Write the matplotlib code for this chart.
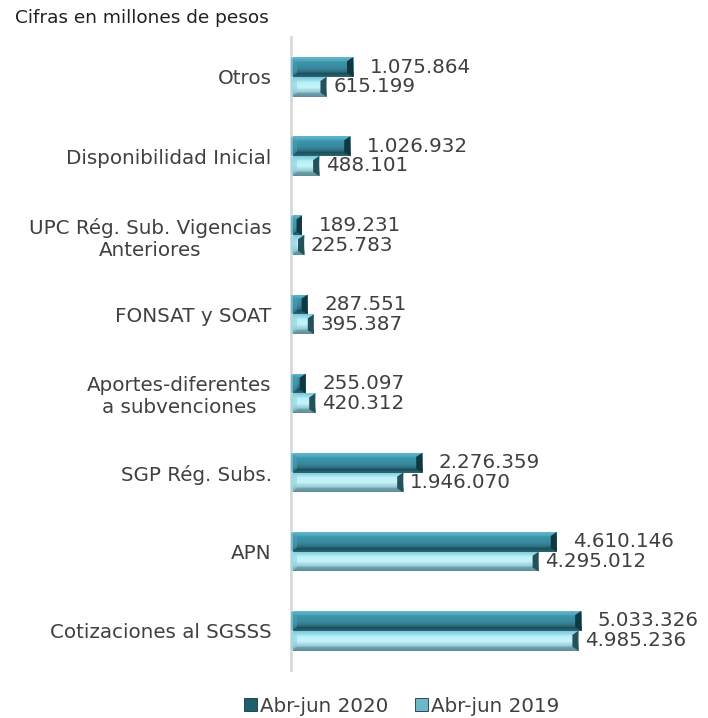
import matplotlib
matplotlib.use('Agg')
import matplotlib.pyplot as plt
import numpy as np
from matplotlib.colors import LinearSegmentedColormap
from matplotlib.patches import Polygon

categorias = ['Otros', 'Disponibilidad Inicial', 'UPC Rég. Sub. Vigencias\nAnteriores',
              'FONSAT y SOAT', 'Aportes-diferentes\na subvenciones', 'SGP Rég. Subs.',
              'APN', 'Cotizaciones al SGSSS']
abr_jun_2020 = [1075864, 1026932, 189231, 287551, 255097, 2276359, 4610146, 5033326]
abr_jun_2019 = [615199, 488101, 225783, 395387, 420312, 1946070, 4295012, 4985236]
series = ['Abr-jun 2020', 'Abr-jun 2019']

def fmt(v):
    return '{:,}'.format(v).replace(',', '.')

grad_2020 = LinearSegmentedColormap.from_list('g20', [
    (0, '#62b8cc'), (0.18, '#4ba6bc'), (0.24, '#3d94aa'), (0.55, '#37899e'),
    (0.76, '#2a6a7a'), (0.82, '#1c4d59'), (1, '#2a6676')])
grad_2019 = LinearSegmentedColormap.from_list('g19', [
    (0, '#79c8d9'), (0.18, '#9fdfeb'), (0.24, '#b8eff8'), (0.5, '#c6f4fb'),
    (0.76, '#95c9d4'), (0.82, '#6f9fa9'), (1, '#5f8f9a')])
end_dark = {'Abr-jun 2020': '#0e3842', 'Abr-jun 2019': '#24515a'}
end_light = {'Abr-jun 2020': '#4a9fb4', 'Abr-jun 2019': '#8fd2de'}
legend_col = {'Abr-jun 2020': '#1f5e6d', 'Abr-jun 2019': '#6fb7c6'}

plt.rcParams['font.family'] = 'DejaVu Sans'
txt = '#404040'
fs = 14.3

fig = plt.figure(figsize=(7.08, 7.18), dpi=100)
ax = fig.add_axes([0.411, 0.0663, 0.57, 0.8816])
xmax = 7.0e6
ax.set_xlim(0, xmax)
n = len(categorias)
y = np.arange(n)
ax.set_ylim(n - 0.5, -0.5)
h = 0.25

# px per data unit for bevel sizes
bbox = ax.get_window_extent()
px_x = bbox.width / xmax
px_y = bbox.height / n
bx = 6 / px_x
by = 4 / px_y

def bevel_bars(vals, offs, cmap, name):
    bars = ax.barh(y + offs, vals, height=h, color='none', edgecolor='none')
    grad = np.linspace(0, 1, 64).reshape(-1, 1)
    for b in bars:
        x0, y0 = b.get_x(), b.get_y()
        w, hh = b.get_width(), b.get_height()
        im = ax.imshow(grad, cmap=cmap, aspect='auto', origin='upper',
                       extent=[x0, x0 + w, y0 + hh, y0], zorder=2)
        im.set_clip_path(b)
        e = min(bx, w / 2)
        ax.add_patch(Polygon([(x0 + w - e, y0 + by), (x0 + w, y0), (x0 + w, y0 + hh),
                              (x0 + w - e, y0 + hh - by)], closed=True,
                             facecolor=end_dark[name], edgecolor='none', zorder=3))
        ax.add_patch(Polygon([(x0 + e, y0 + by), (x0, y0), (x0, y0 + hh),
                              (x0 + e, y0 + hh - by)], closed=True,
                             facecolor=end_light[name], edgecolor='none', alpha=0.6, zorder=3))
    return bars

bevel_bars(abr_jun_2020, -h / 2, grad_2020, series[0])
bevel_bars(abr_jun_2019, h / 2, grad_2019, series[1])

for i in range(n):
    ax.annotate(fmt(abr_jun_2020[i]), (abr_jun_2020[i], y[i] - h / 2), xytext=(12, 0),
                textcoords='offset points', va='center', ha='left', fontsize=fs, color=txt)
    ax.annotate(fmt(abr_jun_2019[i]), (abr_jun_2019[i], y[i] + h / 2), xytext=(5, 0),
                textcoords='offset points', va='center', ha='left', fontsize=fs, color=txt)

ax.set_yticks(y)
ax.set_yticklabels(categorias, fontsize=fs, color=txt, multialignment='center')
ax.tick_params(axis='y', length=0, pad=14)
ax.set_xticks([])
for s in ['top', 'right', 'bottom']:
    ax.spines[s].set_visible(False)
ax.spines['left'].set_color('#d9d9d9')
ax.spines['left'].set_linewidth(2)

fig.text(15 / 708, 1 - 18 / 718, 'Cifras en millones de pesos', fontsize=13.3, color='#202020',
         va='center', ha='left')

handles = [plt.Rectangle((0, 0), 1, 1, facecolor=legend_col[s], edgecolor='#0e3842', linewidth=0.6)
           for s in series]
fig.legend(handles, series, loc='center', bbox_to_anchor=(402 / 708, 1 - 706 / 718), ncol=2,
           frameon=False, fontsize=fs, handlelength=0.65, handleheight=0.6, handletextpad=0.15,
           columnspacing=1.35, labelcolor=txt)

fig.savefig('out.png', dpi=100)
